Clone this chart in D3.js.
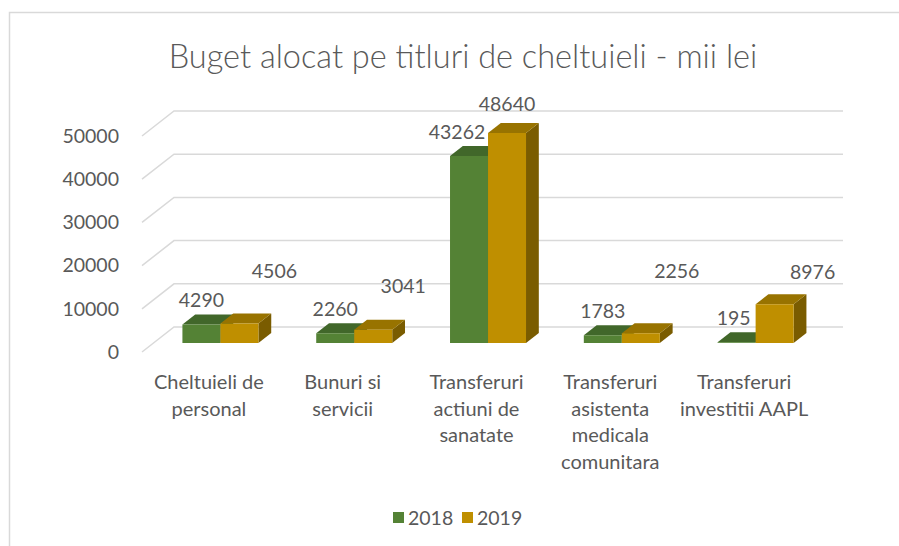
<!DOCTYPE html>
<html>
<head>
<meta charset="utf-8">
<script src="https://cdn.jsdelivr.net/npm/d3@7"></script>
<style>
  body { margin: 0; background: #fff; }
  text { font-family: Lato, "Open Sans", sans-serif; fill: #595959; }
</style>
</head>
<body>
<script>
// data
var categories = ["Cheltuieli de personal", "Bunuri si servicii", "Transferuri actiuni de sanatate",
                  "Transferuri asistenta medicala comunitara", "Transferuri investitii AAPL"];
var seriesNames = ["2018", "2019"];
var values2018 = [4290, 2260, 43262, 1783, 195];
var values2019 = [4506, 3041, 48640, 2256, 8976];
var yTicks = [0, 10000, 20000, 30000, 40000, 50000];

// label nudges (Excel labels were dragged around by hand)
var nudge2018 = [[0, 0], [0, 0], [-12, 0], [0, 0], [-3, 0]];
var nudge2019 = [[35, -28], [30, -20], [0, -5], [36, -38], [38, -8]];

var colors = {
  "2018": { front: "#548235", top: "#41672a", side: "#33521f" },
  "2019": { front: "#bf8f00", top: "#987300", side: "#7a5c00" }
};

var width = 899, height = 546;
var svg = d3.select("body").append("svg")
    .attr("width", width)
    .attr("height", height);

// chart border
svg.append("rect")
    .attr("x", 9.5).attr("y", 12.5)
    .attr("width", 920).attr("height", 560)
    .attr("fill", "none")
    .attr("stroke", "#d9d9d9")
    .attr("stroke-width", 1.5);

svg.append("text")
    .attr("x", 463).attr("y", 68)
    .attr("text-anchor", "middle")
    .style("font-size", "32.5px")
    .style("font-weight", 300)
    .text("Buget alocat pe titluri de cheltuieli - mii lei");

// back wall scales, depth vector goes from back wall to front
var x = d3.scaleBand().domain(categories).range([174, 843]).paddingInner(0.432).paddingOuter(0.216);
var x1 = d3.scaleBand().domain(seriesNames).range([0, x.bandwidth()]);
var y = d3.scaleLinear().domain([0, 50000]).range([327, 111]);
var depth = { dx: -32, dy: 25 };
var fFront = 0.64, fBack = 0.24;

function P(px, py, f) { return [px + f * depth.dx, py + f * depth.dy]; }

// gridlines
svg.append("g").selectAll("path")
  .data(yTicks)
  .join("path")
    .attr("d", function(t) {
      var a = P(174, y(t), 1);
      return "M" + a + "L" + [174, y(t)] + "L" + [843, y(t)];
    })
    .attr("fill", "none")
    .attr("stroke", "#d9d9d9")
    .attr("stroke-width", 1.5);

// y axis at front-left edge
var yAxis = svg.append("g")
    .attr("transform", "translate(" + (174 + depth.dx) + "," + depth.dy + ")")
    .call(d3.axisLeft(y).tickValues(yTicks).tickSize(0).tickPadding(23).tickFormat(d3.format("d")));
yAxis.select(".domain").remove();
yAxis.selectAll("text").style("font-size", "19.5px").attr("fill", "#595959")
    .style("font-family", "Lato, 'Open Sans', sans-serif");

// bars
var bars = [];
categories.forEach(function(c, i) {
  bars.push({ cat: c, s: "2018", v: values2018[i], n: nudge2018[i] });
  bars.push({ cat: c, s: "2019", v: values2019[i], n: nudge2019[i] });
});

var gBars = svg.append("g");
bars.forEach(function(b) {
  var xa = x(b.cat) + x1(b.s), xb = xa + x1.bandwidth();
  var yt = y(b.v), y0 = y(0);
  var col = colors[b.s];
  var poly = function(pts) { return "M" + pts.join("L") + "Z"; };
  gBars.append("path")
      .attr("d", poly([P(xb, yt, fFront), P(xb, yt, fBack), P(xb, y0, fBack), P(xb, y0, fFront)]))
      .attr("fill", col.side);
  gBars.append("path")
      .attr("d", poly([P(xa, yt, fFront), P(xb, yt, fFront), P(xb, yt, fBack), P(xa, yt, fBack)]))
      .attr("fill", col.top);
  gBars.append("path")
      .attr("d", poly([P(xa, yt, fFront), P(xb, yt, fFront), P(xb, y0, fFront), P(xa, y0, fFront)]))
      .attr("fill", col.front);
});

// data labels
svg.append("g").selectAll("text")
  .data(bars)
  .join("text")
    .attr("x", function(b) { return P(x(b.cat) + x1(b.s) + x1.bandwidth() / 2, 0, fFront)[0] + b.n[0]; })
    .attr("y", function(b) { return P(0, y(b.v), fBack)[1] - 14 + b.n[1]; })
    .attr("dy", "0.35em")
    .attr("text-anchor", "middle")
    .style("font-size", "19.5px")
    .text(function(b) { return b.v; });

// category labels, wrapped to the band step
var wrapWidth = x.step() - 4;
var gCat = svg.append("g");
categories.forEach(function(c) {
  var cx = P(x(c) + x.bandwidth() / 2, 0, 1)[0];
  var t = gCat.append("text")
      .attr("text-anchor", "middle")
      .style("font-size", "20px");
  var words = c.split(" "), line = [], lines = [];
  var probe = t.append("tspan");
  words.forEach(function(w) {
    line.push(w);
    probe.text(line.join(" "));
    if (probe.node().getComputedTextLength() > wrapWidth && line.length > 1) {
      line.pop();
      lines.push(line.join(" "));
      line = [w];
    }
  });
  lines.push(line.join(" "));
  probe.remove();
  lines.forEach(function(l, k) {
    t.append("tspan").attr("x", cx).attr("y", 389 + k * 26.5).text(l);
  });
});

// legend
var legend = svg.append("g").attr("transform", "translate(393,518)");
var li = legend.selectAll("g")
  .data(seriesNames)
  .join("g")
    .attr("transform", function(d, i) { return "translate(" + (i * 69) + ",0)"; });
li.append("rect")
    .attr("x", 0).attr("y", -6)
    .attr("width", 11).attr("height", 11)
    .attr("fill", function(d) { return colors[d].front; });
li.append("text")
    .attr("x", 15).attr("dy", "0.35em")
    .style("font-size", "19.5px")
    .text(function(d) { return d; });
</script>
</body>
</html>
